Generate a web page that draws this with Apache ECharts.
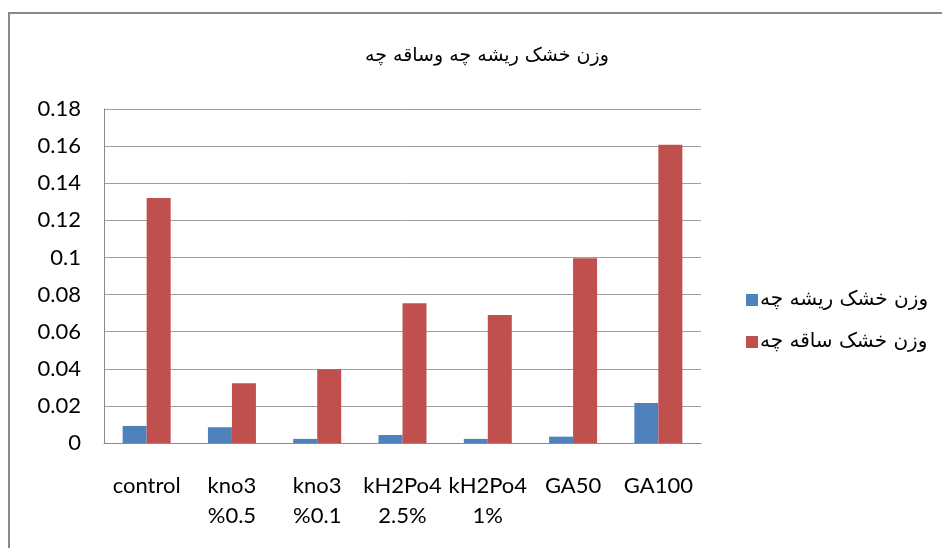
<!DOCTYPE html>
<html>
<head>
<meta charset="utf-8">
<title>وزن خشک ریشه چه وساقه چه</title>
<script src="https://cdn.jsdelivr.net/npm/echarts@6/dist/echarts.min.js"></script>
<style>
  html, body { margin: 0; padding: 0; background: #ffffff; }
  #chart { width: 942px; height: 548px; }
</style>
</head>
<body>
<div id="chart"></div>
<script>
// Treatments on the category axis
const categories = ['control', 'kno3\n%0.5', 'kno3\n%0.1', 'kH2Po4\n2.5%', 'kH2Po4\n1%', 'GA50', 'GA100'];
// Dry weight of the rootlet (blue)
const rootWeight = [0.0092, 0.0085, 0.0022, 0.0043, 0.0022, 0.0034, 0.0215];
// Dry weight of the shoot (red)
const shootWeight = [0.1321, 0.0322, 0.0398, 0.0753, 0.0690, 0.0996, 0.1607];
// Series names and chart title
const seriesNames = ['وزن خشک ریشه چه', 'وزن خشک ساقه چه'];
const chartTitle = 'وزن خشک ریشه چه وساقه چه';
// Value axis range
const yMin = 0, yMax = 0.18, yStep = 0.02;

const latin = 'Lato, "Open Sans", sans-serif';
const arabic = '"DejaVu Sans", sans-serif';

const chart = echarts.init(document.getElementById('chart'), null, { renderer: 'canvas' });
chart.setOption({
  animation: false,
  backgroundColor: '#ffffff',
  title: {
    text: chartTitle,
    left: 482,
    top: 42,
    textAlign: 'center',
    textStyle: { fontFamily: arabic, fontSize: 19, fontWeight: 'normal', color: '#000000' }
  },
  legend: {
    orient: 'vertical',
    left: 741,
    top: 285,
    itemWidth: 12,
    itemHeight: 12,
    itemGap: 22,
    icon: 'rect',
    textStyle: { fontFamily: arabic, fontSize: 20, color: '#000000', padding: [0, 0, 0, -3] },
    data: seriesNames
  },
  graphic: [{
    type: 'rect',
    shape: { x: 9, y: 13, width: 1000, height: 600 },
    style: { fill: 'none', stroke: '#8a8a8a', lineWidth: 2 },
    silent: true
  }],
  grid: { left: 104, right: 241, top: 109, bottom: 105, containLabel: false },
  xAxis: {
    type: 'category',
    data: categories,
    axisLine: { lineStyle: { color: '#8a8a8a', width: 1 } },
    axisTick: { show: false },
    axisLabel: {
      interval: 0,
      margin: 28,
      fontFamily: latin,
      fontSize: 22,
      lineHeight: 30,
      color: '#000000'
    }
  },
  yAxis: {
    type: 'value',
    min: yMin,
    max: yMax,
    interval: yStep,
    axisLine: { show: true, lineStyle: { color: '#8a8a8a', width: 1 } },
    axisTick: { show: false },
    splitLine: { lineStyle: { color: '#a0a0a0', width: 1 } },
    axisLabel: {
      margin: 23,
      fontFamily: latin,
      fontSize: 22,
      color: '#000000',
      formatter: v => String(+v.toFixed(2))
    }
  },
  series: [
    {
      name: seriesNames[0],
      type: 'bar',
      data: rootWeight,
      barWidth: 24,
      barGap: '0%',
      itemStyle: { color: '#4F81BD' }
    },
    {
      name: seriesNames[1],
      type: 'bar',
      data: shootWeight,
      barWidth: 24,
      barGap: '0%',
      itemStyle: { color: '#C0504D' }
    }
  ]
});
</script>
</body>
</html>
